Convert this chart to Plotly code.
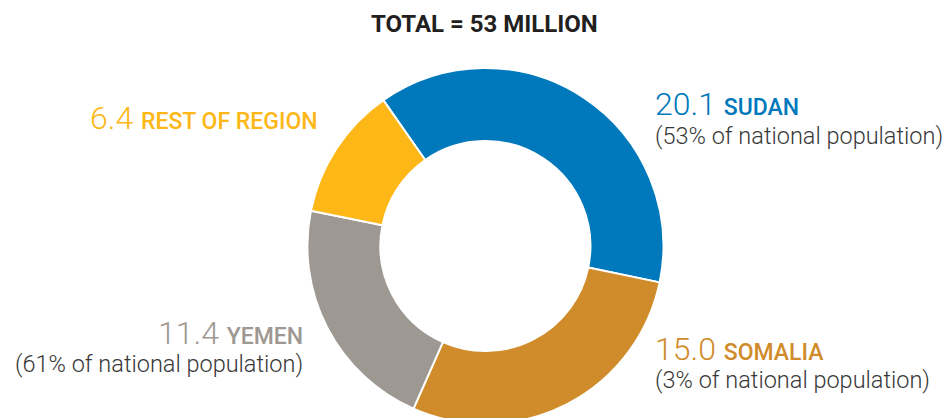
import plotly.graph_objects as go

# ---- data ----
regions = ["SUDAN", "SOMALIA", "YEMEN", "REST OF REGION"]
values = [20.1, 15.0, 11.4, 6.4]
value_labels = ["20.1", "15.0", "11.4", "6.4"]
subtitles = ["(53% of national population)", "(3% of national population)",
             "(61% of national population)", ""]
colors = ["#0079BC", "#D08C2B", "#9E9893", "#FDB716"]
title_text = "TOTAL = 53 MILLION"

W, H = 950, 440  # figure taller than window so the ring is cut at the bottom


def px(x):
    return x / W


def py(y):
    return (H - y) / H


cx, cy, r = 485.4, 246.0, 178.0

fig = go.Figure(go.Pie(
    labels=regions,
    values=values,
    sort=False,
    direction="clockwise",
    rotation=-35,
    hole=0.59,
    marker=dict(colors=colors, line=dict(color="white", width=2)),
    textinfo="none",
    hoverinfo="label+value",
    showlegend=False,
    domain=dict(x=[px(cx - r), px(cx + r)], y=[py(cy + r), py(cy - r)]),
))

pos = {
    "SUDAN": dict(x=653, y1=104, y2=136, anchor="left"),
    "SOMALIA": dict(x=653, y1=349, y2=380, anchor="left"),
    "YEMEN": dict(x=305, y1=333, y2=364, anchor="right"),
    "REST OF REGION": dict(x=320, y1=118, y2=None, anchor="right"),
}

annotations = [dict(
    text="<b>" + title_text + "</b>", x=px(484), y=py(24), xref="paper", yref="paper",
    xanchor="center", yanchor="middle", showarrow=False,
    font=dict(family="Roboto", size=24, color="#231F20"),
)]

for name, vlab, sub, col in zip(regions, value_labels, subtitles, colors):
    p = pos[name]
    annotations.append(dict(
        text=vlab + " <span style='font-size:23px;font-weight:500'>" + name + "</span>",
        x=px(p["x"]), y=py(p["y1"]), xref="paper", yref="paper",
        xanchor=p["anchor"], yanchor="middle", showarrow=False,
        font=dict(family="Roboto", size=32, color=col, weight=300),
    ))
    if sub:
        annotations.append(dict(
            text=sub, x=px(p["x"]), y=py(p["y2"]), xref="paper", yref="paper",
            xanchor=p["anchor"], yanchor="middle", showarrow=False,
            font=dict(family="Roboto", size=23.5, color="#383838", weight=300),
        ))

fig.update_layout(
    width=W, height=H,
    margin=dict(l=0, r=0, t=0, b=0),
    paper_bgcolor="white", plot_bgcolor="white",
    annotations=annotations,
)

fig.write_html(
    "out.html",
    config={"displayModeBar": False},
    post_script="document.body.style.margin='0';document.body.style.overflow='hidden';",
)
